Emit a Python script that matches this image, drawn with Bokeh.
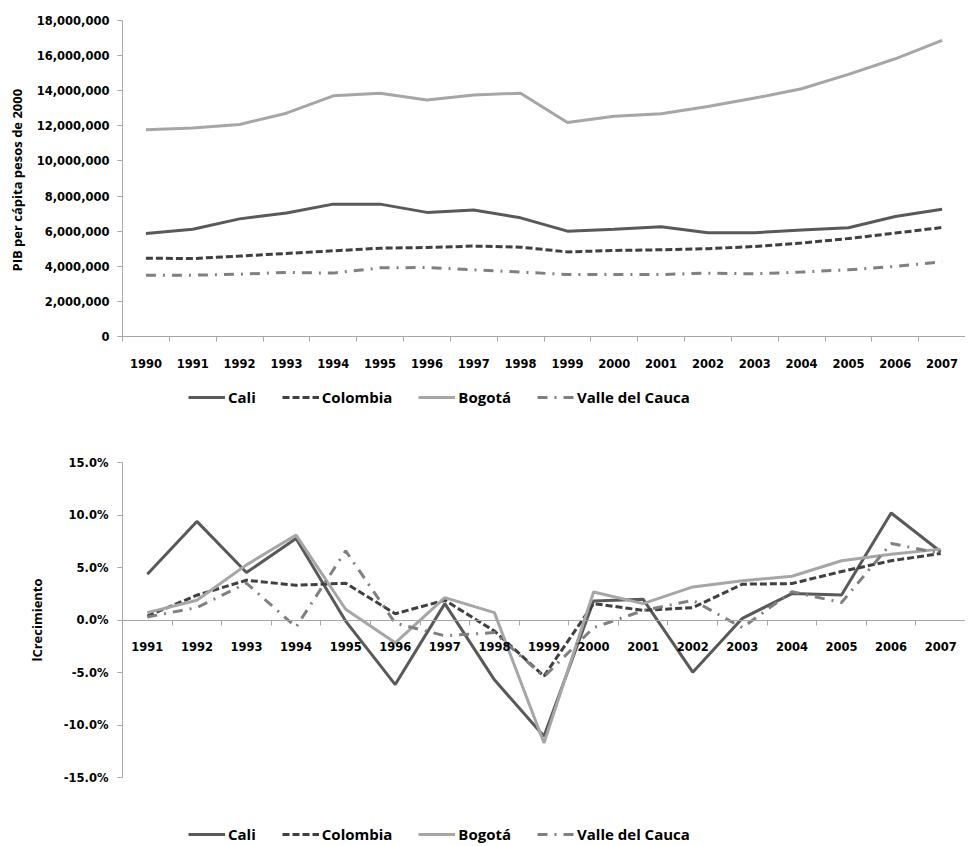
from bokeh.plotting import figure
from bokeh.models import (Range1d, FixedTicker, NumeralTickFormatter, PrintfTickFormatter,
                          Legend, LegendItem, ColumnDataSource)
from bokeh.layouts import column
from bokeh.embed import file_html
from bokeh.resources import INLINE

# ---------------- data ----------------
years_top = [1990, 1991, 1992, 1993, 1994, 1995, 1996, 1997, 1998, 1999,
             2000, 2001, 2002, 2003, 2004, 2005, 2006, 2007]
cali_pib = [5.87, 6.11, 6.70, 7.03, 7.54, 7.54, 7.07, 7.20, 6.76, 6.00,
            6.11, 6.25, 5.91, 5.91, 6.06, 6.19, 6.84, 7.25]
colombia_pib = [4.46, 4.44, 4.58, 4.73, 4.88, 5.03, 5.07, 5.15, 5.09, 4.82,
                4.90, 4.94, 5.00, 5.13, 5.32, 5.58, 5.89, 6.21]
bogota_pib = [11.78, 11.87, 12.08, 12.72, 13.71, 13.85, 13.47, 13.75, 13.86, 12.19,
              12.54, 12.69, 13.10, 13.58, 14.11, 14.93, 15.82, 16.87]
valle_pib = [3.49, 3.49, 3.55, 3.65, 3.61, 3.91, 3.93, 3.80, 3.67, 3.53,
             3.53, 3.53, 3.61, 3.57, 3.67, 3.80, 3.99, 4.26]
y_ticks_top = [0, 2000000, 4000000, 6000000, 8000000, 10000000, 12000000,
               14000000, 16000000, 18000000]

years_bot = [1991, 1992, 1993, 1994, 1995, 1996, 1997, 1998, 1999,
             2000, 2001, 2002, 2003, 2004, 2005, 2006, 2007]
cali_g = [4.36, 9.39, 4.52, 7.77, -0.10, -6.15, 1.56, -5.70, -11.08,
          1.81, 1.97, -4.97, 0.16, 2.52, 2.39, 10.19, 6.50]
colombia_g = [0.38, 2.36, 3.79, 3.31, 3.50, 0.60, 1.88, -1.05, -5.35,
              1.56, 0.92, 1.18, 3.41, 3.47, 4.62, 5.64, 6.34]
bogota_g = [0.70, 1.88, 5.25, 8.09, 1.02, -2.17, 2.13, 0.70, -11.72,
            2.67, 1.56, 3.15, 3.73, 4.17, 5.64, 6.27, 6.75]
valle_g = [0.29, 1.18, 3.50, -0.67, 6.59, -0.30, -1.50, -1.20, -5.40,
           -0.73, 0.90, 1.88, -0.73, 2.70, 1.66, 7.29, 6.34]
y_ticks_bot = [-15, -10, -5, 0, 5, 10, 15]

names = ["Cali", "Colombia", "Bogotá", "Valle del Cauca"]
colors = ["#595959", "#404040", "#a6a6a6", "#808080"]
dashes = ["solid", "7 3", "solid", "10 7 2 7"]
cols = ["cali", "colombia", "bogota", "valle"]

TICK_FONT = "DejaVu Sans"
AXIS_GRAY = "#a6a6a6"
W = 965


def style(p):
    p.xgrid.visible = False
    p.ygrid.visible = False
    p.outline_line_color = None
    for ax in (p.xaxis, p.yaxis):
        ax.axis_line_color = AXIS_GRAY
        ax.major_label_text_font = TICK_FONT
        ax.major_label_text_font_style = "bold"
        ax.major_label_text_font_size = "11.5px"
        ax.major_label_text_color = "#000000"
        ax.axis_label_text_font = "Open Sans"
        ax.axis_label_text_font_style = "bold"
        ax.axis_label_text_font_size = "13px"
        ax.axis_label_text_color = "#000000"
    p.yaxis.major_tick_line_color = AXIS_GRAY
    p.yaxis.major_tick_out = 5
    p.yaxis.major_tick_in = 0
    p.yaxis.minor_tick_line_color = None
    p.xaxis.major_tick_line_color = None
    p.xaxis.major_tick_out = 0
    p.xaxis.major_tick_in = 0
    p.xaxis.minor_tick_line_color = AXIS_GRAY
    p.xaxis.minor_tick_out = 5
    p.xaxis.minor_tick_in = 0


def legend_fig(height, loc, src):
    # a strip that only holds the legend; its lines use the same data but lie outside its view
    lf = figure(width=W, height=height, x_range=Range1d(0, 1), y_range=Range1d(0, 1),
                output_backend="svg", toolbar_location=None, min_border=0,
                x_axis_type=None, y_axis_type=None)
    lf.outline_line_color = None
    lf.xgrid.visible = False
    lf.ygrid.visible = False
    rs = [lf.line("x", col, source=src, line_color=c, line_width=3, line_dash=d)
          for col, c, d in zip(cols, colors, dashes)]
    items = [LegendItem(label=n, renderers=[r]) for n, r in zip(names, rs)]
    leg = Legend(items=items, orientation="horizontal", location=loc,
                 glyph_width=37, glyph_height=16, label_standoff=3, spacing=26,
                 label_text_font="Open Sans", label_text_font_style="bold",
                 label_text_font_size="15px", label_text_color="#000000",
                 border_line_color=None, background_fill_alpha=0,
                 padding=0, margin=0, label_height=16)
    lf.add_layout(leg)
    return lf


# ---------------- top chart ----------------
p1 = figure(width=W, height=378, x_range=Range1d(1989.5, 2007.5),
            y_range=Range1d(0, 18000000), output_backend="svg", toolbar_location=None,
            min_border_left=122, min_border_top=20, min_border_right=0, min_border_bottom=42)
style(p1)
p1.yaxis.ticker = FixedTicker(ticks=y_ticks_top)
p1.yaxis.formatter = NumeralTickFormatter(format="0,0")
p1.yaxis.major_label_standoff = 8
p1.yaxis.axis_label = "PIB  per cápita pesos de 2000"
p1.yaxis.axis_label_standoff = 8
p1.xaxis.ticker = FixedTicker(ticks=years_top, minor_ticks=[y - 0.5 for y in years_top] + [years_top[-1] + 0.5])
p1.xaxis.major_label_standoff = 17

src1 = ColumnDataSource(dict(x=years_top,
                             cali=[v * 1e6 for v in cali_pib],
                             colombia=[v * 1e6 for v in colombia_pib],
                             bogota=[v * 1e6 for v in bogota_pib],
                             valle=[v * 1e6 for v in valle_pib]))
for col, c, d in zip(cols, colors, dashes):
    p1.line("x", col, source=src1, line_color=c, line_width=3, line_dash=d)

leg1 = legend_fig(38, (66, 9), src1)

# ---------------- bottom chart ----------------
p2 = figure(width=W, height=380, x_range=Range1d(1990.5, 2007.5),
            y_range=Range1d(-15, 15), output_backend="svg", toolbar_location=None,
            min_border_left=122, min_border_top=46, min_border_right=0, min_border_bottom=19)
style(p2)
p2.yaxis.ticker = FixedTicker(ticks=y_ticks_bot)
p2.yaxis.formatter = PrintfTickFormatter(format="%.1f%%")
p2.yaxis.major_label_standoff = 9
p2.yaxis.axis_label = "lCrecimiento"
p2.yaxis.axis_label_standoff = 15
p2.xaxis.ticker = FixedTicker(ticks=years_bot, minor_ticks=[y - 0.5 for y in years_bot] + [years_bot[-1] + 0.5])
p2.xaxis.major_label_standoff = 17
p2.xaxis.fixed_location = 0

src2 = ColumnDataSource(dict(x=years_bot, cali=cali_g, colombia=colombia_g,
                             bogota=bogota_g, valle=valle_g))
for col, c, d in zip(cols, colors, dashes):
    p2.line("x", col, source=src2, line_color=c, line_width=3, line_dash=d)

leg2 = legend_fig(50, (66, 2), src2)

layout = column(p1, leg1, p2, leg2, spacing=0)
open("out.html", "w").write(file_html(layout, INLINE))
